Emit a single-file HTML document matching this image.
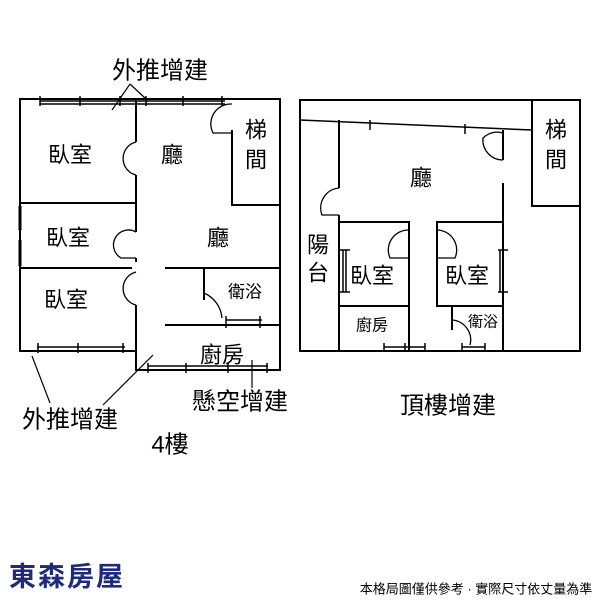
<!DOCTYPE html>
<html><head><meta charset="utf-8"><style>
html,body{margin:0;padding:0;background:#fff}
svg{display:block}
text{font-family:"Liberation Sans","Noto Sans CJK TC",sans-serif;fill:#000;text-anchor:middle;dominant-baseline:central}
</style></head><body>
<svg width="600" height="600" viewBox="0 0 600 600">
<g stroke="#000" stroke-width="2" fill="none">
<!-- left plan -->
<path d="M20 99 H280 V370 H136 V351 H20 Z"/>
<path d="M136 99 V142 M136 175 V232 M136 258 V262 M136 305 V351"/>
<path d="M232 130 V205 H280"/>
<path d="M20 203 H136 M20 268 H132 M165 268 H280 M165 325 H280 M204 268 V300"/>
<path d="M20 206 V230 M20 240 V266" stroke-width="3"/>
<!-- doors -->
<path d="M136 142 A17 17 0 0 0 136 175" stroke-width="1.3"/>
<path d="M136 232 A15 15 0 0 0 121 258 L136 258" stroke-width="1.3"/>
<path d="M136 272 A17 17 0 0 0 136 305" stroke-width="1.3"/>
<path d="M232 104 A20 20 0 0 0 213 133 L232 133" stroke-width="1.3"/>
<path d="M204 293 A30 30 0 0 1 222 318" stroke-width="1.3"/>
<!-- windows -->
<g stroke-width="1.5">
<path d="M40 101 H225 M40 104 H225 M37 347 H125 M37 351 H125 M148 366 H268 M148 370 H268 M226 320 H262"/>
<path d="M40 96 V106 M80 96 V106 M120 96 V106 M146 96 V106 M183 96 V106 M222 96 V106 M38 343 V353 M78 343 V353 M123 343 V353 M148 363 V373 M186 363 V373 M228 363 V373 M267 363 V373 M226 316 V328 M260 316 V328"/>
</g>
<!-- leaders -->
<path d="M130 84 L112 110 M130 84 L146 99 M32 356 L50 403 M153 355 L103 405 M252 360 V388" stroke-width="1.2"/>
<!-- right plan -->
<path d="M300 100 H580 V351 H300 Z"/>
<path d="M532 100 V206 H580"/>
<path d="M300 120 L532 130" stroke-width="1.5"/>
<path d="M339 120 V188 M339 215 V351 M503 130 V160 M503 183 V351"/>
<path d="M339 222 H409 V306 H339 M503 222 H437 V306 H503 M452 306 V330"/>
<path d="M409 306 V351"/>
<path d="M339 188 A20 20 0 0 0 322 215 L339 215" stroke-width="1.3"/>
<path d="M409 230 A20 20 0 0 0 390 258 L409 258" stroke-width="1.3"/>
<path d="M437 230 A20 20 0 0 1 455 258 L437 258" stroke-width="1.3"/>
<path d="M503 133 A20 20 0 0 0 483 138 A20 20 0 0 0 503 160" stroke-width="1.3"/>
<path d="M452 320 A20 20 0 0 1 470 345" stroke-width="1.3"/>
<g stroke-width="1.5">
<path d="M343 250 V292 M346 250 V292 M500 250 V292 M503 250 V292 M384 347 H425 M462 347 H485"/>
<path d="M340 250 H350 M340 292 H350 M498 250 H508 M498 292 H508 M384 343 V351 M425 343 V351 M405 343 V351 M462 343 V351 M485 343 V351 M370 120 V130 M465 124 V134"/>
</g>
</g>
<g font-size="22">
<text x="70" y="155">臥室</text>
<text x="172" y="155">廳</text>
<text x="256" y="130">梯</text>
<text x="256" y="160">間</text>
<text x="68" y="238">臥室</text>
<text x="218" y="238">廳</text>
<text x="66" y="300">臥室</text>
<text x="222" y="355">廚房</text>
<text x="421" y="178">廳</text>
<text x="556" y="130">梯</text>
<text x="556" y="160">間</text>
<text x="318" y="245">陽</text>
<text x="318" y="273">台</text>
<text x="372" y="276">臥室</text>
<text x="467" y="276">臥室</text>
</g>
<text x="245" y="292" font-size="17">衛浴</text>
<text x="372" y="326" font-size="16">廚房</text>
<text x="483" y="322" font-size="15">衛浴</text>
<g font-size="24">
<text x="160" y="71">外推增建</text>
<text x="70" y="420">外推增建</text>
<text x="240" y="402">懸空增建</text>
<text x="170" y="445">4樓</text>
<text x="448" y="406">頂樓增建</text>
</g>
<text x="67" y="577" font-size="27" font-weight="bold" style="fill:#1f2a7a" letter-spacing="2">東森房屋</text>
<text x="476" y="589" font-size="13">本格局圖僅供參考 · 實際尺寸依丈量為準</text>
</svg>
</body></html>
